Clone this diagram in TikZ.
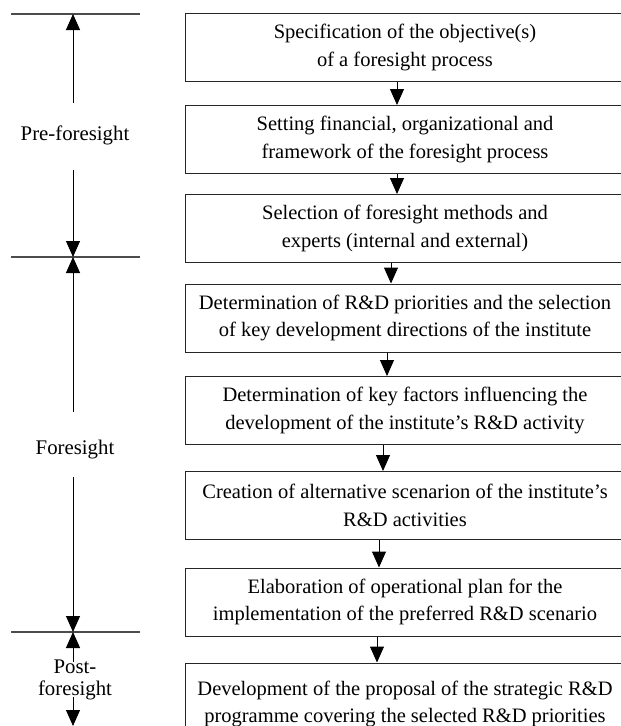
\documentclass[tikz,border=0pt]{standalone}
\usepackage{fontspec}
\setmainfont{Liberation Serif}
\usetikzlibrary{arrows.meta}
\begin{document}
\begin{tikzpicture}[x=1pt,y=-1pt,
  box/.style={draw=black!85, line width=1pt, minimum width=440pt, minimum height=68pt,
    inner sep=0pt, align=center, font=\fontsize{20.5}{27.5}\selectfont},
  lbl/.style={align=center, inner sep=0pt, font=\fontsize{20.8}{22}\selectfont},
  arr/.style={line width=1pt, -{Triangle[length=16pt,width=14pt]}},
  sep/.style={line width=1.3pt, draw=black!70}]
\useasboundingbox (0,0) rectangle (621,726);
\clip (0,0) rectangle (621,726);

% boxes
\node[box] (b1) at (405,47.5) {Specification of the objective(s)\\of a foresight process};
\node[box] (b2) at (405,139.5) {Setting financial, organizational and\\framework of the foresight process};
\node[box] (b3) at (405,228.5) {Selection of foresight methods and\\experts (internal and external)};
\node[box] (b4) at (405,318) {Determination of R\&D priorities and the selection\\of key development directions of the institute};
\node[box] (b5) at (405,410.5) {Determination of key factors influencing the\\development of the institute’s R\&D activity};
\node[box] (b6) at (405,505.5) {Creation of alternative scenarion of the institute’s\\R\&D activities};
\node[box] (b7) at (405,602) {Elaboration of operational plan for the\\implementation of the preferred R\&D scenario};
\node[box, minimum height=82pt] (b8) at (405,704) {Development of the proposal of the strategic R\&D\\programme covering the selected R\&D priorities};

% arrow columns
\coordinate (x1) at (397,0);
\coordinate (x2) at (397,0);
\coordinate (x3) at (391,0);
\coordinate (x4) at (387,0);
\coordinate (x5) at (383,0);
\coordinate (x6) at (379,0);
\coordinate (x7) at (377,0);
\draw[arr] (b1.south -| x1) -- (b2.north -| x1);
\draw[arr] (b2.south -| x2) -- (b3.north -| x2);
\draw[arr] (b3.south -| x3) -- (b4.north -| x3);
\draw[arr] (b4.south -| x4) -- (b5.north -| x4);
\draw[arr] (b5.south -| x5) -- (b6.north -| x5);
\draw[arr] (b6.south -| x6) -- (b7.north -| x6);
\draw[arr] (b7.south -| x7) -- (b8.north -| x7);

% phase separators
\coordinate (s1l) at (11,14);  \coordinate (s1r) at (140,14);  \coordinate (s1) at (73,14);
\coordinate (s2l) at (11,257); \coordinate (s2r) at (140,257); \coordinate (s2) at (73,257);
\coordinate (s3l) at (11,632); \coordinate (s3r) at (140,632); \coordinate (s3) at (73,632);
\coordinate (s4) at (73,726);
\draw[sep] (s1l) -- (s1r);
\draw[sep] (s2l) -- (s2r);
\draw[sep] (s3l) -- (s3r);

% phase labels
\node[lbl] (pre) at (75,135) {Pre-foresight};
\node[lbl] (fore) at (75,450) {Foresight};
\node[lbl] (post) at (75,680) {Post-\\foresight};

\coordinate (pa) at (73,103); \coordinate (pb) at (73,170);
\coordinate (fa) at (73,412); \coordinate (fb) at (73,477);
\coordinate (qa) at (73,662); \coordinate (qb) at (73,697);
\draw[arr] (pa) -- (s1);
\draw[arr] (pb) -- (s2);
\draw[arr] (fa) -- (s2);
\draw[arr] (fb) -- (s3);
\draw[arr] (qa) -- (s3);
\draw[arr] (qb) -- (s4);
\end{tikzpicture}
\end{document}
